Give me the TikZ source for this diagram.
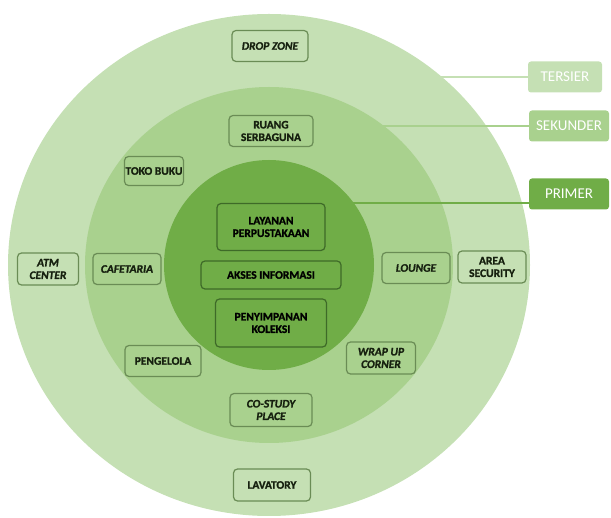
\documentclass[tikz,border=0pt]{standalone}
\usepackage{fontspec}
\setmainfont{Carlito}[BoldFeatures={FakeBold=1.3},BoldItalicFeatures={FakeBold=1.3}]
\definecolor{ring3}{HTML}{C5E0B4}
\definecolor{ring2}{HTML}{A9D18E}
\definecolor{ring1}{HTML}{70AD47}
\definecolor{bordout}{HTML}{6A8C55}
\definecolor{bordin}{HTML}{3E6A28}
\definecolor{txt}{HTML}{16200F}
\tikzset{
  box/.style={draw=bordout, rounded corners=4pt, line width=1.2pt, align=center,
    text=txt, font=\fontsize{11.5}{12.5}\selectfont\bfseries, inner sep=1pt},
  ibox/.style={box, draw=bordin, text=black},
  itbox/.style={box, font=\fontsize{11.5}{12.5}\selectfont\bfseries\itshape},
  lvl/.style={rounded corners=3pt, text=white, font=\fontsize{15}{17}\selectfont,
    minimum height=31pt, inner sep=2pt},
  leader/.style={line width=2pt},
}
\begin{document}
\begin{tikzpicture}[x=1pt,y=-1pt]
\useasboundingbox (0,0) rectangle (611,518);
\coordinate (c) at (269,265);
% level labels
\node[lvl, fill=ring3, minimum width=74pt] (ter) at (565,77) {TERSIER};
\node[lvl, fill=ring2, minimum width=80pt] (sek) at (569,126) {SEKUNDER};
\node[lvl, fill=ring1, minimum width=80pt] (pri) at (569,194) {PRIMER};
% leaders and rings
\draw[leader, ring3] (ter.west) -- (ter.west -| c);
\fill[ring3] (c) ellipse [x radius=261, y radius=251];
\draw[leader, ring2] (sek.west) -- (sek.west -| c);
\fill[ring2] (c) ellipse [x radius=184, y radius=178];
\draw[leader, ring1] ([yshift=-9pt]pri.west) -- ([yshift=-9pt]pri.west -| c);
\fill[ring1] (c) circle [radius=105];
% tersier ring
\node[itbox, minimum width=76pt, minimum height=31pt] (drop) at (270,46) {DROP ZONE};
\node[itbox, minimum width=61pt, minimum height=32pt] (atm) at (48,269) {ATM\\CENTER};
\node[box, minimum width=68pt, minimum height=32pt] (area) at (492,267) {AREA\\SECURITY};
\node[box, minimum width=77pt, minimum height=32pt] (lav) at (272,485) {LAVATORY};
% sekunder ring
\node[box, minimum width=84pt, minimum height=31pt] (ruang) at (271,131) {RUANG\\SERBAGUNA};
\node[box, minimum width=54pt, minimum height=29pt] (toko) at (154,171) {TOKO BUKU};
\node[itbox, minimum width=68pt, minimum height=31pt] (caf) at (127,269) {CAFETARIA};
\node[itbox, minimum width=68pt, minimum height=31pt] (lounge) at (416,268) {LOUNGE};
\node[box, minimum width=76pt, minimum height=31pt] (peng) at (163,361) {PENGELOLA};
\node[itbox, minimum width=69pt, minimum height=32pt] (wrap) at (381,358) {WRAP UP\\CORNER};
\node[itbox, minimum width=82pt, minimum height=33pt] (cost) at (271,410) {CO-STUDY\\PLACE};
% primer ring
\node[ibox, minimum width=108pt, minimum height=47pt] (lay) at (271,227) {LAYANAN\\PERPUSTAKAAN};
\node[ibox, minimum width=140pt, minimum height=28pt] (akses) at (271,275) {AKSES INFORMASI};
\node[ibox, minimum width=111pt, minimum height=48pt] (peny) at (271,323) {PENYIMPANAN\\KOLEKSI};
\end{tikzpicture}
\end{document}
